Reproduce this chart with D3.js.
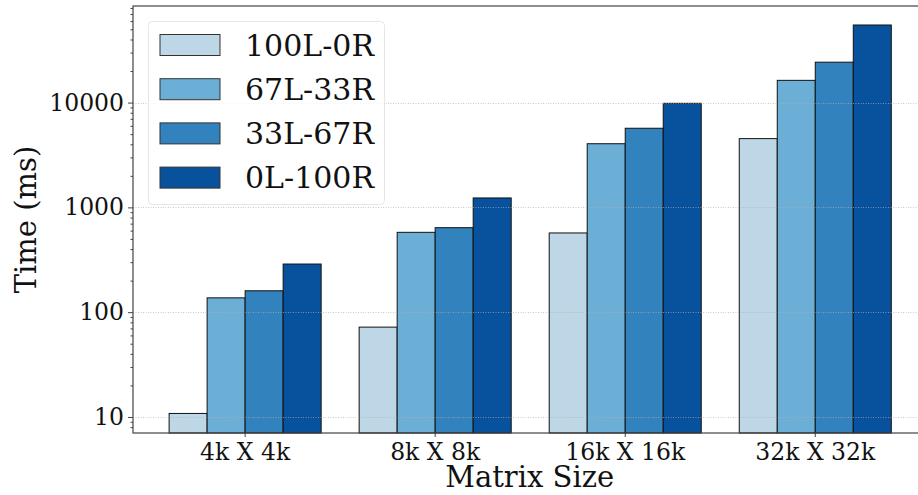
<!DOCTYPE html>
<html>
<head>
<meta charset="utf-8">
<script src="https://cdn.jsdelivr.net/npm/d3@7"></script>
<style>
  html, body { margin: 0; padding: 0; background: #fff; }
  svg { display: block; font-family: "DejaVu Serif", serif; }
</style>
</head>
<body>
<svg id="chart" width="918" height="495"></svg>
<script>
// Matrix sizes along the x axis
const categories = ["4k X 4k", "8k X 8k", "16k X 16k", "32k X 32k"];
// Workload splits, one bar per split in each group
const seriesNames = ["100L-0R", "67L-33R", "33L-67R", "0L-100R"];
// Run times in milliseconds, one array per split
const time100L0R = [10.8, 72, 570, 4530];
const time67L33R = [137, 578, 4050, 16300];
const time33L67R = [160, 640, 5690, 24300];
const time0L100R = [288, 1230, 9840, 55000];
// Major tick values on the log axis
const yTickValues = [10, 100, 1000, 10000];

const seriesValues = [time100L0R, time67L33R, time33L67R, time0L100R];
const colors = ["#bdd7e7", "#6baed6", "#3182bd", "#08519c"];

const svg = d3.select("#chart");
const plot = { left: 133, right: 927.4, top: 6, bottom: 433 };

const x = d3.scaleBand()
  .domain(categories)
  .range([plot.left, plot.right])
  .paddingInner(0.2)
  .paddingOuter(0.19);

const xInner = d3.scaleBand()
  .domain(seriesNames)
  .range([0, x.bandwidth()]);

const y = d3.scaleLog()
  .domain([7.03, 83500])
  .range([plot.bottom, plot.top]);

// Bars
const groups = svg.append("g").selectAll("g")
  .data(categories)
  .join("g")
  .attr("transform", d => `translate(${x(d)},0)`);

groups.selectAll("rect")
  .data((c, ci) => seriesNames.map((s, si) => ({ s, si, v: seriesValues[si][ci] })))
  .join("rect")
  .attr("x", d => xInner(d.s))
  .attr("width", xInner.bandwidth())
  .attr("y", d => y(d.v))
  .attr("height", d => plot.bottom - y(d.v))
  .attr("fill", d => colors[d.si])
  .attr("stroke", "#111")
  .attr("stroke-width", 1);

// Dotted grid at the major ticks
svg.append("g").selectAll("line")
  .data(yTickValues)
  .join("line")
  .attr("x1", plot.left)
  .attr("x2", plot.right)
  .attr("y1", d => Math.round(y(d)) + 0.5)
  .attr("y2", d => Math.round(y(d)) + 0.5)
  .attr("stroke", "#b0b0b0")
  .attr("stroke-opacity", 0.75)
  .attr("stroke-width", 0.9)
  .attr("stroke-dasharray", "1,1.5");

// Frame
const spine = "#444";
svg.append("rect")
  .attr("x", plot.left)
  .attr("y", plot.top)
  .attr("width", plot.right - plot.left)
  .attr("height", plot.bottom - plot.top)
  .attr("fill", "none")
  .attr("stroke", spine)
  .attr("stroke-width", 1.2);

// Y axis: major ticks with labels, minor ticks without
const yAxis = d3.axisLeft(y)
  .tickValues(yTickValues)
  .tickFormat(d3.format("d"))
  .tickSize(5)
  .tickPadding(4);
const yg = svg.append("g").attr("transform", `translate(${plot.left},0)`).call(yAxis);
yg.select(".domain").remove();
yg.selectAll("line").attr("stroke", spine);
yg.selectAll("text").attr("font-size", "23.5px").attr("fill", "#111")
  .attr("font-family", "DejaVu Serif");

const minorTicks = y.ticks().filter(v => !yTickValues.includes(v));
const yMinor = d3.axisLeft(y).tickValues(minorTicks).tickFormat("").tickSize(2.5);
const ym = svg.append("g").attr("transform", `translate(${plot.left},0)`).call(yMinor);
ym.select(".domain").remove();
ym.selectAll("line").attr("stroke", spine);

// X axis
const xAxis = d3.axisBottom(x).tickSize(4).tickPadding(6);
const xg = svg.append("g").attr("transform", `translate(0,${plot.bottom})`).call(xAxis);
xg.select(".domain").remove();
xg.selectAll("line").attr("stroke", spine);
xg.selectAll("text").attr("font-size", "23.5px").attr("fill", "#111")
  .attr("font-family", "DejaVu Serif");

// Axis titles
svg.append("text")
  .attr("x", (plot.left + 927.4) / 2 - 0.5)
  .attr("y", 487)
  .attr("text-anchor", "middle")
  .attr("font-size", "29px")
  .attr("fill", "#111")
  .text("Matrix Size");

svg.append("text")
  .attr("transform", `translate(36,${(plot.top + plot.bottom) / 2}) rotate(-90)`)
  .attr("text-anchor", "middle")
  .attr("font-size", "29px")
  .attr("fill", "#111")
  .text("Time (ms)");

// Legend
const legend = svg.append("g");
legend.append("rect")
  .attr("x", 148.5)
  .attr("y", 21.5)
  .attr("width", 236)
  .attr("height", 183)
  .attr("rx", 4)
  .attr("fill", "#fff")
  .attr("fill-opacity", 0.8)
  .attr("stroke", "#e6e6e6")
  .attr("stroke-width", 1);

const rowStep = 44.2;
const rows = legend.selectAll("g.row")
  .data(seriesNames)
  .join("g")
  .attr("class", "row")
  .attr("transform", (d, i) => `translate(0,${i * rowStep})`);

rows.append("rect")
  .attr("x", 160)
  .attr("y", 34.5)
  .attr("width", 60)
  .attr("height", 21)
  .attr("fill", (d, i) => colors[i])
  .attr("stroke", "#333")
  .attr("stroke-width", 1);

rows.append("text")
  .attr("x", 245)
  .attr("y", 55.5)
  .attr("font-size", "30px")
  .attr("fill", "#111")
  .text(d => d);
</script>
</body>
</html>
